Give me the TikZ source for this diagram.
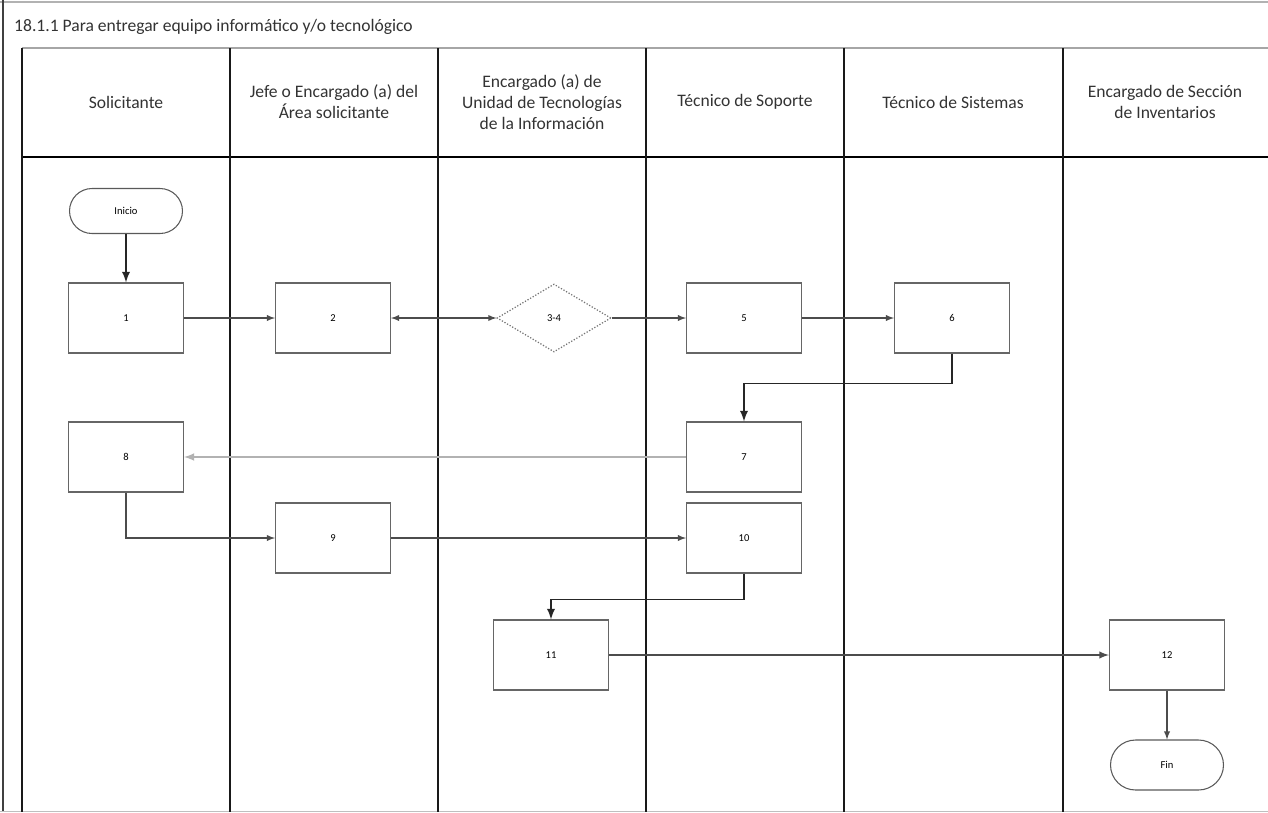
\documentclass[tikz,border=0pt]{standalone}
\usepackage{fontspec}
\setmainfont{Carlito}
\usetikzlibrary{shapes.geometric,arrows}
\tikzset{
  proc/.style={draw=black!60,line width=.6pt,minimum width=2.3cm,minimum height=1.4cm,inner sep=0pt,font=\fontsize{6}{7}\selectfont},
  decide/.style={diamond,draw=black!55,densely dotted,line width=.7pt,minimum width=2.28cm,minimum height=1.36cm,inner sep=0pt,font=\fontsize{6}{7}\selectfont},
  term/.style={draw=black!65,line width=.6pt,rounded corners=.45cm,minimum width=2.26cm,minimum height=.9cm,inner sep=0pt,font=\fontsize{6}{7}\selectfont},
  flow/.style={->,line width=.6pt,draw=black!70},
  flowbold/.style={->,line width=1.1pt,draw=black!85},
  lane/.style={line width=.9pt,draw=black!90},
  lanehead/.style={align=center,font=\fontsize{10}{12}\selectfont,text=black!80},
}

\begin{document}
\begin{tikzpicture}[>=latex,x=0.02cm,y=-0.02cm]
\useasboundingbox (0,0) rectangle (1268,812);
\draw[black!30,line width=.8pt] (0,2) -- (1268,2);
\draw[black!75,line width=1.2pt] (3,0) -- (3,812);
\draw[black!25] (0,811) -- (1268,811);
\node[anchor=west,font=\fontsize{10}{12}\selectfont,text=black!80] (title) at (8,27) {18.1.1 Para entregar equipo informático y/o tecnológico};
\draw[black!35,line width=.8pt] (22,48) -- (1268,48);
\draw[black,line width=1.3pt] (22,157) -- (1268,157);
\foreach \xl in {22,230,438,646,844,1063}
  \draw[lane] (\xl,48) -- (\xl,812);
\node[lanehead] (hSol) at (126,102) {Solicitante};
\node[lanehead] (hJefe) at (334,102) {Jefe o Encargado (a) del\\Área solicitante};
\node[lanehead] (hUti) at (542,102) {Encargado (a) de\\Unidad de Tecnologías\\de la Información};
\node[lanehead] (hSop) at (745,102) {Técnico de Soporte};
\node[lanehead] (hSis) at (953,102) {Técnico de Sistemas};
\node[lanehead] (hInv) at (1165,102) {Encargado de Sección\\de Inventarios};

\node[term] (ini) at (126,211) {Inicio};
\node[proc] (n1) at (126,318) {1};
\node[proc] (n2) at (333,318) {2};
\node[decide] (n34) at (554,318) {3-4};
\node[proc] (n5) at (744,318) {5};
\node[proc] (n6) at (952,318) {6};
\node[proc] (n7) at (744,457) {7};
\node[proc] (n8) at (126,457) {8};
\node[proc] (n9) at (333,538) {9};
\node[proc] (n10) at (744,538) {10};
\node[proc] (n11) at (551,655) {11};
\node[proc] (n12) at (1167,655) {12};
\node[term,minimum height=1cm,rounded corners=.5cm] (fin) at (1167,765) {Fin};

\draw[flowbold] (ini) -- (n1);
\draw[flow] (n1) -- (n2);
\draw[flow,<->] (n2) -- (n34);
\draw[flow] (n34) -- (n5);
\draw[flow] (n5) -- (n6);
\draw[flowbold] (n6.south) -- ++(0,30) -| (n7.north);
\draw[flow,draw=black!30,line width=1pt] (n7) -- (n8);
\draw[flow] (n8.south) |- (n9.west);
\draw[flow] (n9) -- (n10);
\draw[flowbold] (n10.south) -- ++(0,26) -| (n11.north);
\draw[flow,line width=.9pt] (n11) -- (n12);
\draw[flow] (n12) -- (fin);
\end{tikzpicture}
\end{document}
